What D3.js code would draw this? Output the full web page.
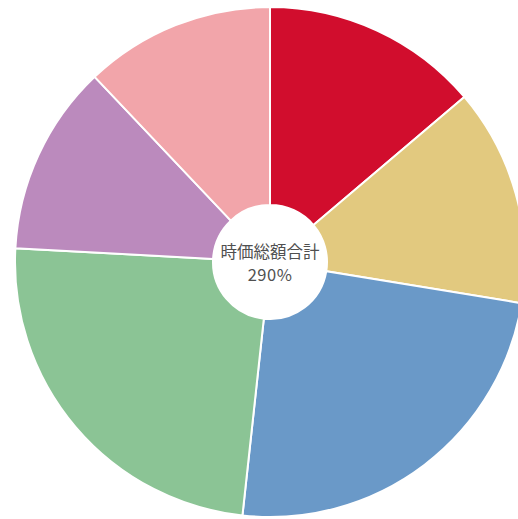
<!DOCTYPE html>
<html>
<head>
<meta charset="utf-8">
<script src="https://cdn.jsdelivr.net/npm/d3@7"></script>
<style>
  html, body { margin: 0; padding: 0; background: #fff; overflow: hidden; }
  svg { display: block; }
</style>
</head>
<body>
<svg width="518" height="519"></svg>
<script>
// slice values (percent), clockwise from 12 o'clock
var categories = ["A", "B", "C", "D", "E", "F"];
var values = [40, 40, 70, 70, 35, 35];
var colors = ["#d10d2d", "#e2c97f", "#6a99c8", "#8bc495", "#bb8abd", "#f2a5aa"];
var centerLabel = "時価総額合計";
var totalLabel = d3.sum(values) + "%";

var svg = d3.select("svg");
var cx = 270, cy = 262;
var outerR = 255, innerR = 57;

var data = categories.map(function(c, i) {
  return { name: c, value: values[i] };
});

var color = d3.scaleOrdinal().domain(categories).range(colors);

var pie = d3.pie().sort(null).value(function(d) { return d.value; });
var arc = d3.arc().innerRadius(innerR).outerRadius(outerR);

var g = svg.append("g").attr("transform", "translate(" + cx + "," + cy + ")");

g.selectAll("path")
  .data(pie(data))
  .enter()
  .append("path")
  .attr("d", arc)
  .attr("fill", function(d) { return color(d.data.name); })
  .attr("stroke", "#fff")
  .attr("stroke-width", 2);

g.append("text")
  .attr("x", 0)
  .attr("y", -4)
  .attr("text-anchor", "middle")
  .style("font-family", "'Noto Sans CJK JP', sans-serif")
  .style("font-size", "16.5px")
  .style("fill", "#505050")
  .text(centerLabel);

g.append("text")
  .attr("x", 0)
  .attr("y", 19)
  .attr("text-anchor", "middle")
  .style("font-family", "'Noto Sans CJK JP', sans-serif")
  .style("font-size", "16.5px")
  .style("letter-spacing", "0.5px")
  .style("fill", "#505050")
  .text(totalLabel);
</script>
</body>
</html>
